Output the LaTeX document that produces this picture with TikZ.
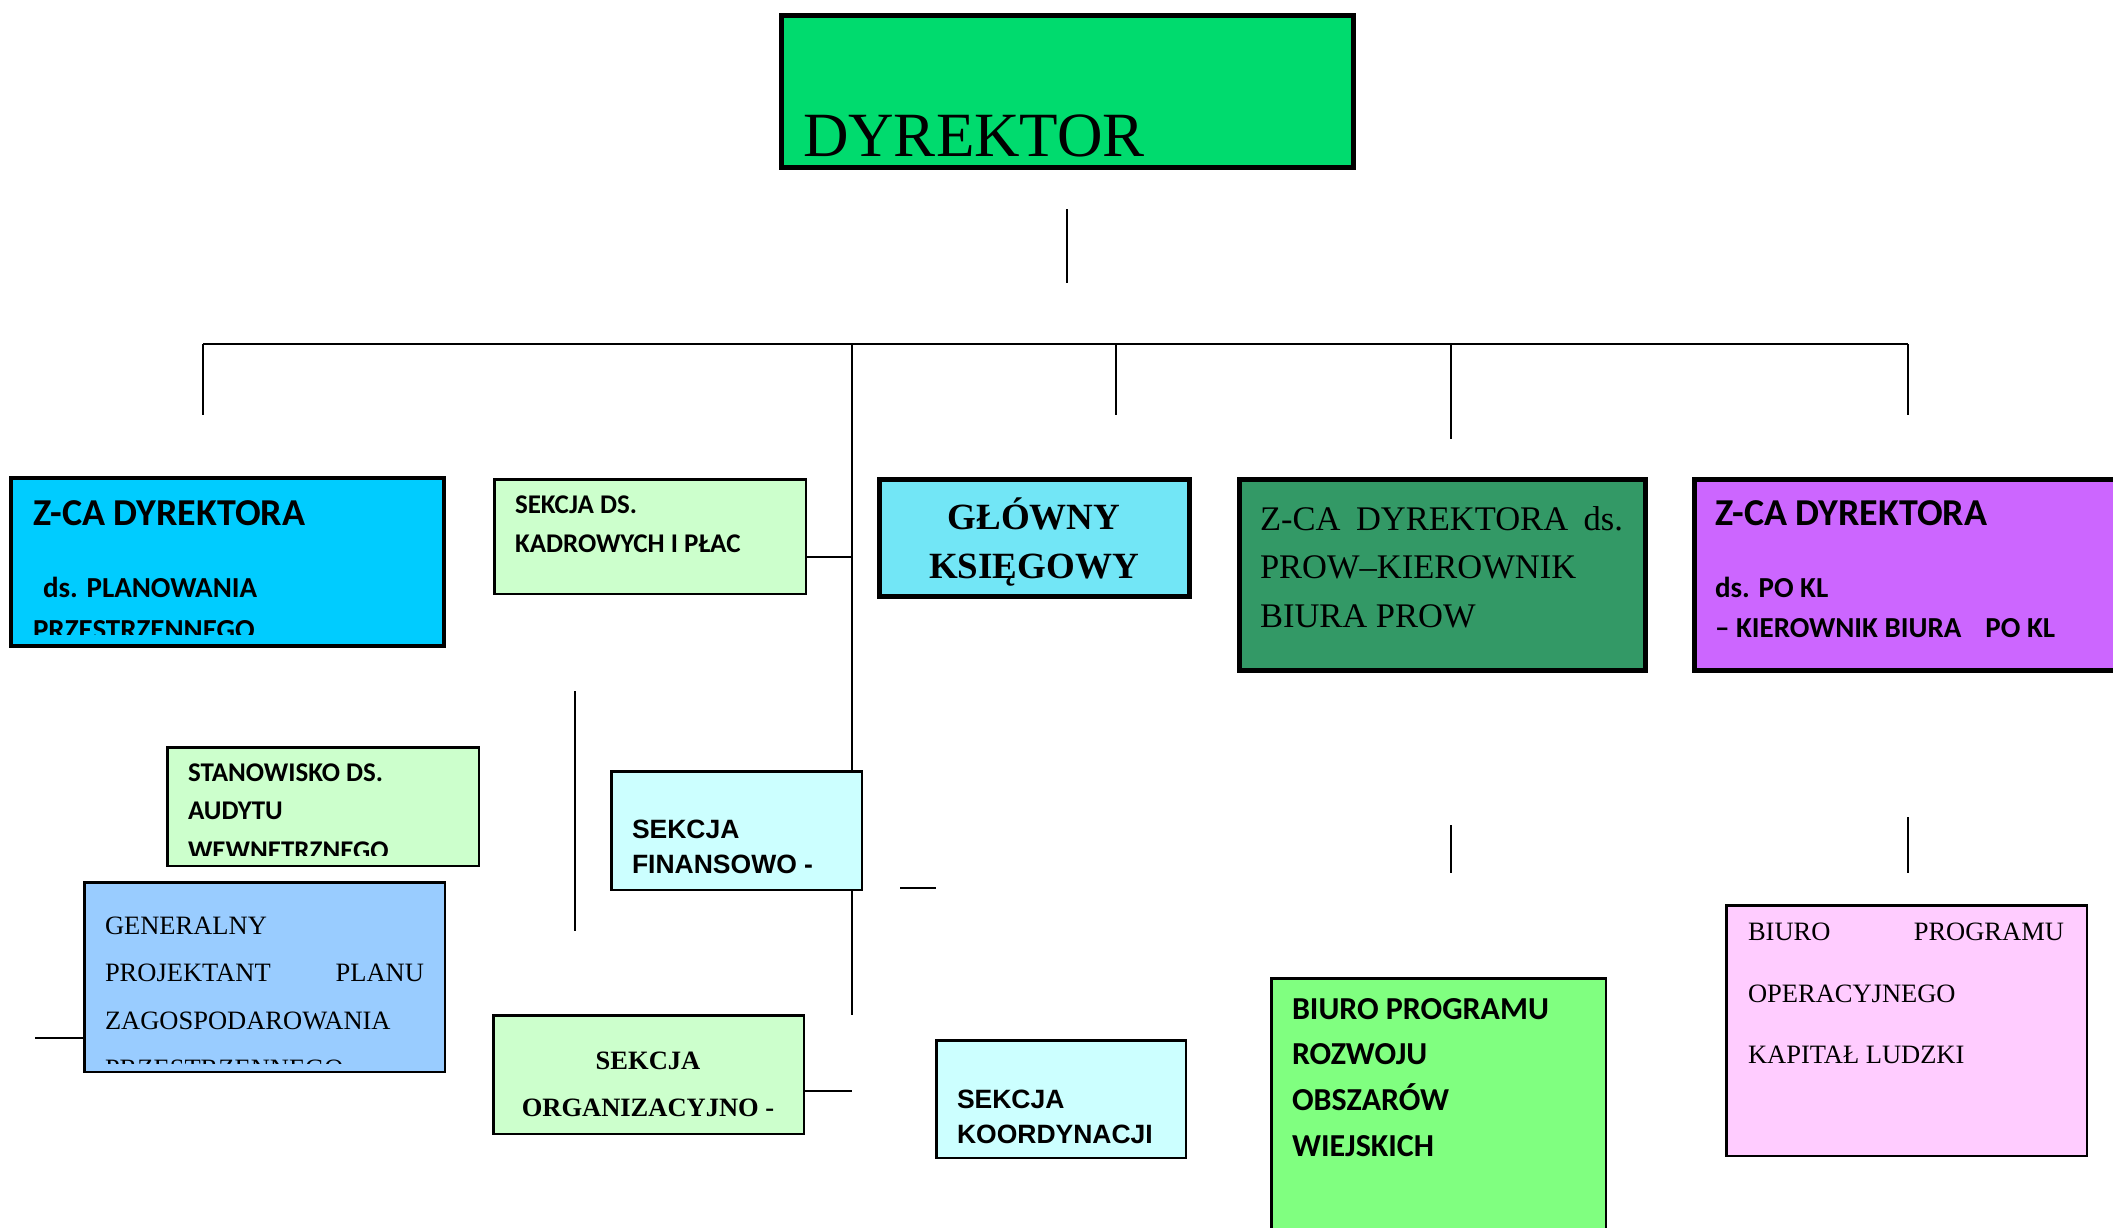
\documentclass[tikz,border=0pt]{standalone}
\usepackage{fontspec}
\setmainfont{Liberation Serif}
\newfontfamily\calfont{Carlito}
\newfontfamily\arialfont{Liberation Sans}
\definecolor{cDyr}{HTML}{00DB6E}
\definecolor{cBlue}{HTML}{00CCFF}
\definecolor{cLGreen}{HTML}{CCFFCC}
\definecolor{cLCyan}{HTML}{CCFFFF}
\definecolor{cSky}{HTML}{99CCFF}
\definecolor{cGlow}{HTML}{72E6F6}
\definecolor{cProw}{HTML}{339966}
\definecolor{cPurple}{HTML}{CC66FF}
\definecolor{cGreen}{HTML}{80FF80}
\definecolor{cPink}{HTML}{FFCCFF}
\tikzset{
  orgbox/.style={draw, anchor=north west, inner sep=0pt, outer sep=0pt},
  txt/.style={anchor=base west, inner sep=0pt, outer sep=0pt},
  ctxt/.style={anchor=base, inner sep=0pt, outer sep=0pt},
  rtxt/.style={anchor=base east, inner sep=0pt, outer sep=0pt},
  ln/.style={line width=2pt}
}
% #1 x0, #2 y0, #3 x1, #4 y1, #5 line width, #6 fill, #7 name
\newcommand\obox[7]{\node[orgbox, line width=#5, fill=#6,
  minimum width={#3-#1-#5}, minimum height={#4-#2-#5}] (#7) at ({#1+#5/2},{#2+#5/2}) {};}
\begin{document}
\begin{tikzpicture}[x=1pt,y=-1pt]
\useasboundingbox[fill=white] (0,0) rectangle (2113,1227);

% ---------- connectors ----------
\coordinate (dA) at (1067,209);
\coordinate (dB) at (1067,283);
\coordinate (hL) at (203,344);
\coordinate (hR) at (1908,344);
\coordinate (hM) at (852,344);
\coordinate (hG) at (1116,344);
\coordinate (hP) at (1451,344);
\coordinate (vL) at (203,415);
\coordinate (vM) at (852,1015);
\coordinate (vG) at (1116,415);
\coordinate (vP) at (1451,439);
\coordinate (vR) at (1908,415);
\coordinate (kE) at (852,557);
\coordinate (kS) at (806,557);
\coordinate (oS) at (805,1091);
\coordinate (oE) at (852,1091);
\coordinate (sA) at (900,888);
\coordinate (sB) at (936,888);
\coordinate (gA) at (35,1038);
\coordinate (gB) at (83,1038);
\coordinate (mA) at (575,691);
\coordinate (mB) at (575,931);
\coordinate (bA) at (1451,825);
\coordinate (bB) at (1451,873);
\coordinate (pA) at (1908,817);
\coordinate (pB) at (1908,873);

\draw[ln] (dA) -- (dB);
\draw[ln] (hL) -- (hR);
\draw[ln] (hL) -- (vL);
\draw[ln] (hM) -- (vM);
\draw[ln] (hG) -- (vG);
\draw[ln] (hP) -- (vP);
\draw[ln] (hR) -- (vR);
\draw[ln] (kS) -- (kE);
\draw[ln] (oS) -- (oE);
\draw[ln] (sA) -- (sB);
\draw[ln] (gA) -- (gB);
\draw[ln] (mA) -- (mB);
\draw[ln] (bA) -- (bB);
\draw[ln] (pA) -- (pB);

% ---------- boxes ----------
\obox{779}{13}{1356}{170}{5}{cDyr}{dyr}
\node[txt] (tDyr) at (803,156) {\fontsize{63}{66}\selectfont DYREKTOR};

% Z-CA blue
\obox{9}{476}{446}{648}{4}{cBlue}{zcaA}
\node[txt] (tzA1) at (33,525) {\calfont\bfseries\fontsize{38}{40}\selectfont Z-CA DYREKTORA};
\node[txt] (tzA2) at (43,597) {\calfont\bfseries\fontsize{29}{32}\selectfont ds. PLANOWANIA};
\begin{scope}
\clip (0,600) rectangle (446,634);
\node[txt] (tzA3) at (33,639) {\calfont\bfseries\fontsize{29}{32}\selectfont PRZESTRZENNEGO};
\end{scope}

% kadrowe
\obox{493}{478}{807}{595}{2.5}{cLGreen}{kadr}
\node[txt] (tk1) at (515,513) {\calfont\bfseries\fontsize{27}{30}\selectfont SEKCJA DS.};
\node[txt] (tk2) at (515,552) {\calfont\bfseries\fontsize{27}{30}\selectfont KADROWYCH I PŁAC};

% stanowisko
\obox{166}{746}{480}{867}{2.5}{cLGreen}{stan}
\node[txt] (ts1) at (188,781) {\calfont\bfseries\fontsize{27}{30}\selectfont STANOWISKO DS.};
\node[txt] (ts2) at (188,819) {\calfont\bfseries\fontsize{27}{30}\selectfont AUDYTU};
\begin{scope}
\clip (166,830) rectangle (480,855);
\node[txt] (ts3) at (188,859) {\calfont\bfseries\fontsize{27}{30}\selectfont WEWNETRZNEGO};
\end{scope}

% generalny
\obox{83}{881}{446}{1073}{2.5}{cSky}{gen}
\node[txt] (tg1) at (105,934) {\fontsize{26.5}{30}\selectfont GENERALNY};
\node[txt] (tg2) at (105,981) {\fontsize{26.5}{30}\selectfont PROJEKTANT};
\node[rtxt] (tg3) at (424,981) {\fontsize{26.5}{30}\selectfont PLANU};
\node[txt] (tg4) at (105,1029) {\fontsize{26.5}{30}\selectfont ZAGOSPODAROWANIA};
\begin{scope}
\clip (83,1040) rectangle (446,1063);
\node[txt] (tg5) at (105,1077) {\fontsize{26.5}{30}\selectfont PRZESTRZENNEGO};
\end{scope}

% finansowo
\obox{610}{770}{863}{891}{2.5}{cLCyan}{fin}
\node[txt] (tf1) at (632,838) {\arialfont\bfseries\fontsize{26.5}{30}\selectfont SEKCJA};
\node[txt] (tf2) at (632,873) {\arialfont\bfseries\fontsize{26.5}{30}\selectfont FINANSOWO -};

% organizacyjno
\obox{492}{1014}{805}{1135}{2.5}{cLGreen}{org}
\node[ctxt] (to1) at (648,1069) {\bfseries\fontsize{26.5}{30}\selectfont SEKCJA};
\node[ctxt] (to2) at (648,1116) {\bfseries\fontsize{26.5}{30}\selectfont ORGANIZACYJNO -};

% koordynacji
\obox{935}{1039}{1187}{1159}{2.5}{cLCyan}{koord}
\node[txt] (tc1) at (957,1108) {\arialfont\bfseries\fontsize{26.5}{30}\selectfont SEKCJA};
\node[txt] (tc2) at (957,1143) {\arialfont\bfseries\fontsize{26.5}{30}\selectfont KOORDYNACJI};

% glowny
\obox{877}{477}{1192}{599}{5}{cGlow}{glow}
\node[ctxt] (tgl1) at (1034,529) {\bfseries\fontsize{37}{40}\selectfont GŁÓWNY};
\node[ctxt] (tgl2) at (1034,578) {\bfseries\fontsize{37}{40}\selectfont KSIĘGOWY};

% prow
\obox{1237}{477}{1648}{673}{5}{cProw}{prow}
\node[txt] (tp1) at (1260,530) {\fontsize{34.5}{40}\selectfont\hbox to 363pt{Z-CA\hfill DYREKTORA\hfill ds.}};
\node[txt] (tp2) at (1260,578) {\fontsize{34.5}{40}\selectfont PROW–KIEROWNIK};
\node[txt] (tp3) at (1260,627) {\fontsize{34.5}{40}\selectfont BIURA PROW};

% Z-CA purple
\obox{1692}{477}{2140}{673}{5}{cPurple}{zcaB}
\node[txt] (tzB1) at (1715,525) {\calfont\bfseries\fontsize{38}{40}\selectfont Z-CA DYREKTORA};
\node[txt] (tzB2) at (1715,597) {\calfont\bfseries\fontsize{29}{32}\selectfont ds. PO KL};
\node[txt] (tzB3) at (1715,637) {\calfont\bfseries\fontsize{29}{32}\selectfont – KIEROWNIK BIURA\hspace{24pt}PO KL};

% biuro PROW
\obox{1270}{977}{1607}{1250}{2.5}{cGreen}{biuroR}
\node[txt] (tb1) at (1292,1019) {\calfont\bfseries\fontsize{32}{34}\selectfont BIURO PROGRAMU};
\node[txt] (tb2) at (1292,1064) {\calfont\bfseries\fontsize{32}{34}\selectfont ROZWOJU};
\node[txt] (tb3) at (1292,1110) {\calfont\bfseries\fontsize{32}{34}\selectfont OBSZARÓW};
\node[txt] (tb4) at (1292,1156) {\calfont\bfseries\fontsize{32}{34}\selectfont WIEJSKICH};

% biuro PO KL
\obox{1725}{904}{2088}{1157}{2.5}{cPink}{biuroP}
\node[txt] (tq1) at (1748,940) {\fontsize{26.5}{30}\selectfont BIURO};
\node[rtxt] (tq2) at (2064,940) {\fontsize{26.5}{30}\selectfont PROGRAMU};
\node[txt] (tq3) at (1748,1002) {\fontsize{26.5}{30}\selectfont OPERACYJNEGO};
\node[txt] (tq4) at (1748,1063) {\fontsize{26.5}{30}\selectfont KAPITAŁ LUDZKI};
\end{tikzpicture}
\end{document}
